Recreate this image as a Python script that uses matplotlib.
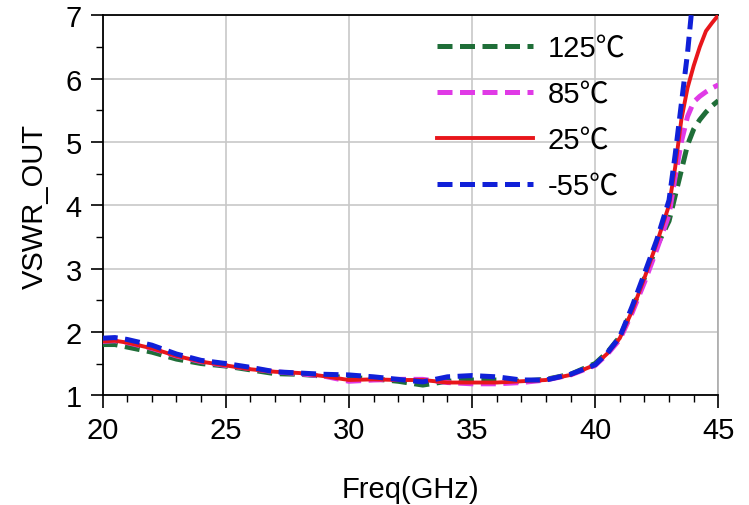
import matplotlib
matplotlib.use("Agg")
import matplotlib.pyplot as plt
from matplotlib.ticker import MultipleLocator

plt.rcParams['font.family'] = ['Liberation Sans', 'Noto Sans CJK SC', 'DejaVu Sans']

freq = [20, 20.5, 21, 22, 23, 24, 25, 26, 27, 28, 29, 30, 31, 32, 33, 34, 35, 36, 37, 38, 39,
        40, 40.5, 41, 41.5, 42, 42.5, 43, 43.25, 43.5, 43.75, 44, 44.25, 44.5, 44.75, 45]

vswr_125 = [1.80, 1.80, 1.76, 1.68, 1.57, 1.50, 1.46, 1.40, 1.34, 1.33, 1.30, 1.28, 1.26, 1.22, 1.16,
            1.22, 1.24, 1.24, 1.22, 1.25, 1.33, 1.50, 1.68, 1.92, 2.35, 2.85, 3.35, 3.75, 4.15, 4.55,
            4.95, 5.20, 5.35, 5.47, 5.57, 5.65]
vswr_85 = [1.85, 1.86, 1.83, 1.74, 1.62, 1.53, 1.47, 1.42, 1.37, 1.34, 1.30, 1.22, 1.24, 1.25, 1.25,
           1.20, 1.18, 1.18, 1.20, 1.24, 1.32, 1.47, 1.65, 1.88, 2.30, 2.78, 3.30, 3.85, 4.45, 5.00,
           5.40, 5.63, 5.72, 5.79, 5.85, 5.90]
vswr_25 = [1.85, 1.86, 1.83, 1.74, 1.62, 1.53, 1.47, 1.41, 1.37, 1.35, 1.30, 1.24, 1.25, 1.24, 1.24,
           1.20, 1.20, 1.20, 1.22, 1.24, 1.32, 1.48, 1.66, 1.90, 2.33, 2.85, 3.40, 4.00, 4.60, 5.35,
           5.85, 6.20, 6.50, 6.75, 6.88, 7.00]

freq_m55 = [20, 20.5, 21, 22, 23, 24, 25, 26, 27, 28, 29, 30, 31, 32, 33, 34, 35, 36, 37, 38, 39,
            40, 40.5, 41, 41.5, 42, 42.5, 43, 43.25, 43.5, 43.75, 43.9]
vswr_m55 = [1.90, 1.91, 1.88, 1.79, 1.65, 1.55, 1.50, 1.44, 1.37, 1.35, 1.33, 1.32, 1.29, 1.25, 1.21,
            1.29, 1.31, 1.29, 1.24, 1.24, 1.33, 1.48, 1.67, 1.92, 2.40, 2.92, 3.45, 4.08, 4.80, 5.60,
            6.40, 7.00]

labels = ['125℃', '85℃', '25℃', '-55℃']
colors = ['#1f6e38', '#e03ae6', '#e8161b', '#1020d8']

fig = plt.figure(figsize=(7.49, 5.06), dpi=100)
ax = fig.add_axes([0.137, 0.217, 0.822, 0.751])

dash = (3.0, 1.5)
ax.plot(freq, vswr_125, color=colors[0], lw=3.6, dashes=dash, label=labels[0], zorder=3)
ax.plot(freq, vswr_85, color=colors[1], lw=3.6, dashes=dash, label=labels[1], zorder=3)
ax.plot(freq, vswr_25, color=colors[2], lw=2.8, label=labels[2], zorder=3)
ax.plot(freq_m55, vswr_m55, color=colors[3], lw=3.6, dashes=dash, label=labels[3], zorder=3)

ax.set_xlim(20, 45)
ax.set_ylim(1, 7)
ax.xaxis.set_major_locator(MultipleLocator(5))
ax.xaxis.set_minor_locator(MultipleLocator(1))
ax.yaxis.set_major_locator(MultipleLocator(1))
ax.yaxis.set_minor_locator(MultipleLocator(0.5))
ax.tick_params(which='major', direction='out', length=9, width=1.2, labelsize=21, colors='black', pad=6)
ax.tick_params(which='minor', direction='out', length=5, width=1.0)
ax.grid(True, which='major', color='#c8c8c8', lw=1.2, zorder=0)

for side in ['left', 'bottom', 'top']:
    ax.spines[side].set_color('black')
    ax.spines[side].set_linewidth(1.3)
ax.spines['right'].set_color('#aaaaaa')
ax.spines['right'].set_linewidth(1.2)

ax.set_xlabel('Freq(GHz)', fontsize=21, labelpad=22)
ax.set_ylabel('VSWR_OUT', fontsize=21, labelpad=12)

leg = ax.legend(loc='upper left', bbox_to_anchor=(0.50, 1.02), frameon=False, fontsize=21,
                handlelength=3.3, handletextpad=0.5, labelspacing=0.62)

fig.savefig('out.png', dpi=100)
